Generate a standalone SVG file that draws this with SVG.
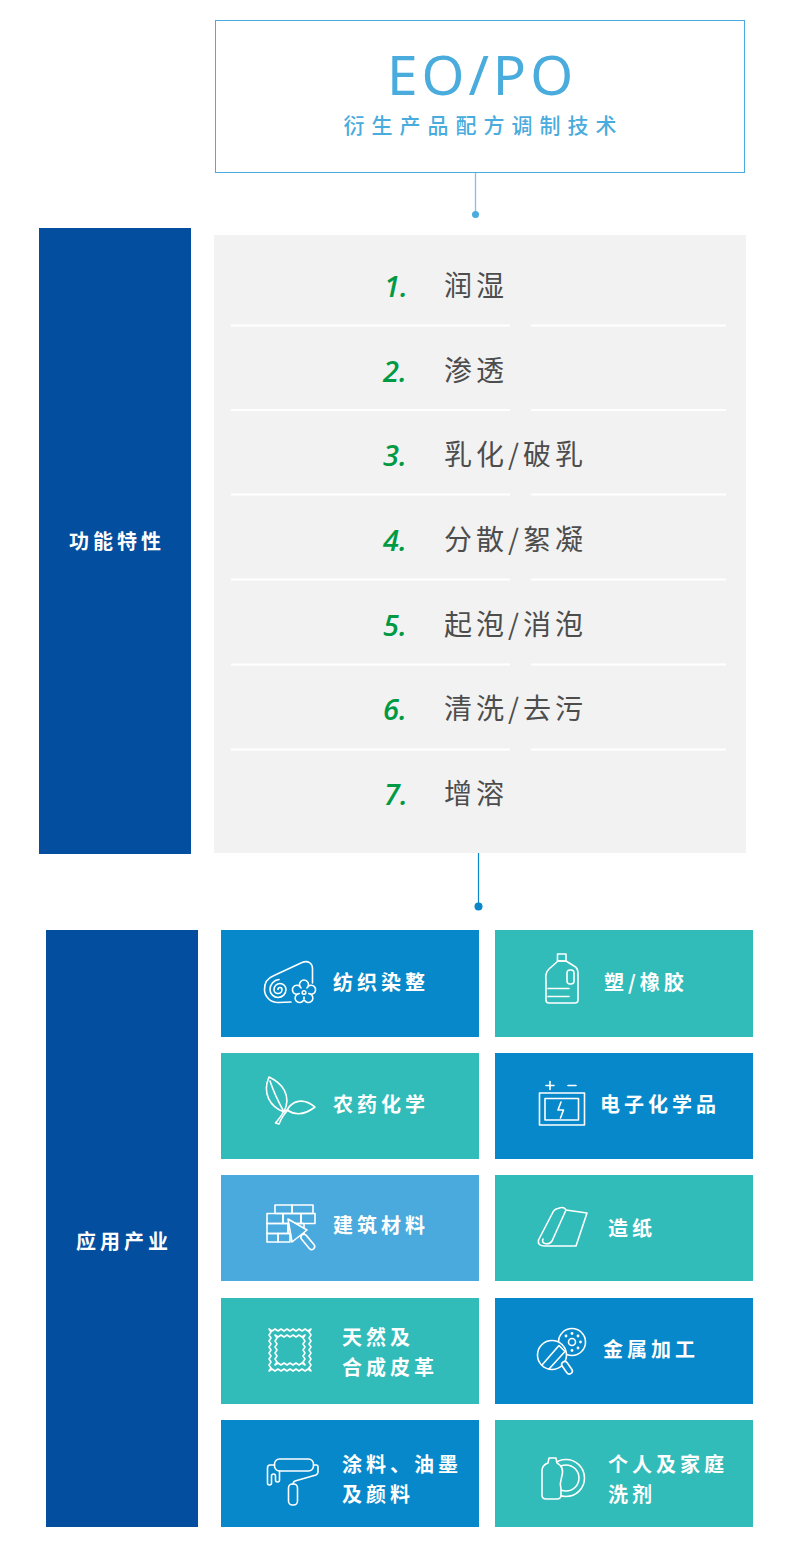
<svg xmlns="http://www.w3.org/2000/svg" width="800" height="1560" viewBox="0 0 800 1560">
<style>
.t{font-family:"Noto Sans CJK SC","Noto Sans",sans-serif}
.lbl{font-family:"Noto Sans CJK SC","Noto Sans",sans-serif;font-size:20px;font-weight:700;fill:#fff;letter-spacing:4px}
.side{font-family:"Noto Sans CJK SC","Noto Sans",sans-serif;font-size:20px;font-weight:700;fill:#fff;letter-spacing:4px;text-anchor:middle}
.num{font-family:"Open Sans","Noto Sans",sans-serif;font-style:italic;font-weight:600;font-size:29px;fill:#009a44}
.item{font-family:"Noto Sans CJK SC","Noto Sans",sans-serif;font-size:28px;font-weight:400;fill:#4d4d4d;letter-spacing:4px}
.sep{stroke:#fff;stroke-width:2}
.ic{fill:none;stroke:#fff;stroke-width:1.6;stroke-linecap:round;stroke-linejoin:round}
.blue{fill:#0788ca}
.teal{fill:#31bbb9}
.lblue{fill:#4aaade}
</style>

<g id="header">
<rect x="215.5" y="20.5" width="529" height="152" fill="#fff" stroke="#4aabdd" stroke-width="1"/>
<text x="482" y="95" text-anchor="middle" font-family="'Noto Sans','Open Sans',sans-serif" font-size="55" letter-spacing="4" fill="#4aabdd">EO/PO</text>
<text x="483.5" y="133" text-anchor="middle" class="t" font-size="21" font-weight="500" letter-spacing="7" fill="#4aabdd">衍生产品配方调制技术</text>
</g>

<g id="connectors">
<line x1="475.5" y1="173" x2="475.5" y2="214" stroke="#7cc4ea" stroke-width="1.3"/>
<circle cx="475.5" cy="214.5" r="3.5" fill="#4aabdd"/>
<line x1="478.5" y1="853" x2="478.5" y2="906" stroke="#0a86c9" stroke-width="1.2"/>
<circle cx="478.5" cy="906.5" r="4" fill="#0a86c9"/>
</g>

<g id="functions-label">
<rect x="39" y="228" width="152" height="626" fill="#034e9e"/>
<text x="117" y="549" class="side">功能特性</text>
</g>

<g id="functions-list">
<rect x="214" y="235" width="532" height="618" fill="#f2f2f2"/>
<g>
<line class="sep" x1="231" y1="325.5" x2="510" y2="325.5"/><line class="sep" x1="531" y1="325.5" x2="726" y2="325.5"/>
<line class="sep" x1="231" y1="410" x2="510" y2="410"/><line class="sep" x1="531" y1="410" x2="726" y2="410"/>
<line class="sep" x1="231" y1="494.5" x2="510" y2="494.5"/><line class="sep" x1="531" y1="494.5" x2="726" y2="494.5"/>
<line class="sep" x1="231" y1="579.5" x2="510" y2="579.5"/><line class="sep" x1="531" y1="579.5" x2="726" y2="579.5"/>
<line class="sep" x1="231" y1="664.5" x2="510" y2="664.5"/><line class="sep" x1="531" y1="664.5" x2="726" y2="664.5"/>
<line class="sep" x1="231" y1="749.5" x2="510" y2="749.5"/><line class="sep" x1="531" y1="749.5" x2="726" y2="749.5"/>
</g>
<g id="item1"><text x="384" y="297" class="num">1.</text><text x="444" y="296" class="item">润湿</text></g>
<g id="item2"><text x="383" y="381.5" class="num">2.</text><text x="444" y="380.5" class="item">渗透</text></g>
<g id="item3"><text x="383" y="466" class="num">3.</text><text x="444" y="465" class="item">乳化/破乳</text></g>
<g id="item4"><text x="383" y="551" class="num">4.</text><text x="444" y="550" class="item">分散/絮凝</text></g>
<g id="item5"><text x="383" y="635.5" class="num">5.</text><text x="444" y="634.5" class="item">起泡/消泡</text></g>
<g id="item6"><text x="383" y="720" class="num">6.</text><text x="444" y="719" class="item">清洗/去污</text></g>
<g id="item7"><text x="384" y="805" class="num">7.</text><text x="444" y="804" class="item">增溶</text></g>
</g>

<g id="industries-label">
<rect x="46" y="930" width="152" height="597" fill="#034e9e"/>
<text x="124" y="1249" class="side">应用产业</text>
</g>

<g id="tile-textile">
<rect x="221" y="930" width="258" height="107" class="blue"/>
<path class="ic" d="M291,1002 L278,1002.5 C270,1002.5 264.5,996 264.5,989.5 C264.5,983 268,978 273,976 L302,962.5 C308,960 312.5,963 312.5,969 L312.5,983"/>
<path class="ic" d="M278,989.5 A2,2 0 0 1 282,989.5 A4,4 0 0 1 274,989.5 A6,6 0 0 1 286,989.5 A8,8 0 0 1 270,989.5 A10,10 0 0 1 279,979.5"/>
<path class="ic" style="fill:#0788ca" d="M306.94,987.95 A4.5,4.5 0 1 1 308.76,993.55 A4.5,4.5 0 1 1 304,997 A4.5,4.5 0 1 1 299.24,993.55 A4.5,4.5 0 1 1 301.06,987.95 A4.5,4.5 0 1 1 306.94,987.95 Z"/>
<circle class="ic" cx="304" cy="992.5" r="1.8"/>
<text x="333" y="990" class="lbl">纺织染整</text>
</g>

<g id="tile-plastic">
<rect x="495" y="930" width="258" height="107" class="teal"/>
<rect class="ic" x="557.5" y="954" width="8.5" height="7"/>
<path class="ic" d="M558,961 L549,969 Q545,973 546,980 L546,1000 Q546,1003 549,1003 L575,1003 Q578,1003 578,1000 L578,973 Q578,968 574,966 L566,961 Z"/>
<rect class="ic" x="567" y="970" width="7" height="14" rx="3"/>
<line class="ic" x1="548" y1="988.5" x2="569" y2="988.5"/>
<line class="ic" x1="548" y1="996.5" x2="569" y2="996.5"/>
<text x="604" y="990" class="lbl">塑/橡胶</text>
</g>

<g id="tile-agro">
<rect x="221" y="1053" width="258" height="106" class="teal"/>
<path class="ic" d="M269,1077 C282,1083 292,1095 284,1112 C270,1107 262,1093 269,1077 Z"/>
<path class="ic" d="M270,1081 C274,1093 279,1103 284,1112"/>
<path class="ic" d="M287,1110 C292,1101 303,1097 315,1107 C306,1114 296,1116 287,1110 Z"/>
<path class="ic" d="M283.5,1111.5 L288,1110 C284,1114 281,1119 279,1124 L275.5,1123 C279,1119 282,1115 283.5,1111.5 Z"/>
<text x="333" y="1112" class="lbl">农药化学</text>
</g>

<g id="tile-electronic">
<rect x="495" y="1053" width="258" height="106" class="blue"/>
<line class="ic" x1="546" y1="1085.5" x2="554" y2="1085.5"/>
<line class="ic" x1="550" y1="1081.5" x2="550" y2="1089.5"/>
<line class="ic" x1="568" y1="1085.5" x2="576" y2="1085.5"/>
<rect class="ic" x="539.5" y="1093" width="45" height="32"/>
<rect class="ic" x="545" y="1098.5" width="33.5" height="21.5"/>
<path class="ic" d="M561,1102 L558,1110 L563.5,1110 L560.5,1118"/>
<text x="600" y="1112" class="lbl">电子化学品</text>
</g>

<g id="tile-building">
<rect x="221" y="1175" width="258" height="106" class="lblue"/>
<rect class="ic" x="275" y="1205" width="17" height="8.5"/>
<rect class="ic" x="292" y="1205" width="21" height="8.5"/>
<rect class="ic" x="267" y="1213.5" width="16" height="10"/>
<rect class="ic" x="283" y="1213.5" width="18" height="10"/>
<rect class="ic" x="301" y="1213.5" width="14" height="10"/>
<rect class="ic" x="267" y="1223.5" width="21" height="10"/>
<rect class="ic" x="288" y="1223.5" width="16" height="10"/>
<rect class="ic" x="267" y="1233.5" width="11" height="8.5"/>
<rect class="ic" x="278" y="1233.5" width="12" height="8.5"/>
<polygon class="ic" style="fill:#4aaade" points="288,1219 307,1230 292,1242"/>
<rect class="ic" style="fill:#4aaade" x="-3" y="0" width="6" height="18" rx="3" transform="translate(302,1235) rotate(-40)"/>
<text x="333" y="1233" class="lbl">建筑材料</text>
</g>

<g id="tile-paper">
<rect x="495" y="1175" width="258" height="106" class="teal"/>
<path class="ic" d="M558,1208.5 Q564,1206 566,1210 L587,1213 L576,1246 L545,1246 Q537,1246 538.5,1240 L552,1214 Q554,1209 558,1208.5 Z"/>
<path class="ic" d="M566,1210 L552,1241 Q550,1244.5 545,1243.5 Q541.5,1242.5 543,1239"/>
<text x="608" y="1236" class="lbl">造纸</text>
</g>

<g id="tile-leather">
<rect x="221" y="1298" width="258" height="106" class="teal"/>
<polygon class="ic" points="269,1329 272,1331 275,1329 278,1331 281,1329 284,1331 287,1329 290,1331 293,1329 296,1331 299,1329 302,1331 305,1329 308,1331 311,1329 309,1332 311,1335 309,1338 311,1341 309,1344 311,1347 309,1350 311,1353 309,1356 311,1359 309,1362 311,1365 309,1368 311,1371 308,1369 305,1371 302,1369 299,1371 296,1369 293,1371 290,1369 287,1371 284,1369 281,1371 278,1369 275,1371 272,1369 269,1371 271,1368 269,1365 271,1362 269,1359 271,1356 269,1353 271,1350 269,1347 271,1344 269,1341 271,1338 269,1335 271,1332"/>
<polygon class="ic" points="275,1335 278,1337 281,1335 284,1337 287,1335 290,1337 293,1335 296,1337 299,1335 302,1337 305,1335 303,1338 305,1341 303,1344 305,1347 303,1350 305,1353 303,1356 305,1359 303,1362 305,1365 302,1363 299,1365 296,1363 293,1365 290,1363 287,1365 284,1363 281,1365 278,1363 275,1365 277,1362 275,1359 277,1356 275,1353 277,1350 275,1347 277,1344 275,1341 277,1338"/>
<text x="342" y="1345" class="lbl">天然及</text>
<text x="342" y="1375" class="lbl">合成皮革</text>
</g>

<g id="tile-metal">
<rect x="495" y="1298" width="258" height="106" class="blue"/>
<circle class="ic" cx="572" cy="1342" r="13.5"/>
<circle class="ic" cx="572" cy="1342" r="3.5"/>
<g fill="#fff">
<circle cx="580.5" cy="1342" r="1.4"/><circle cx="578" cy="1336" r="1.4"/><circle cx="572" cy="1333.5" r="1.4"/><circle cx="566" cy="1336" r="1.4"/><circle cx="578" cy="1348" r="1.4"/><circle cx="572" cy="1350.5" r="1.4"/>
</g>
<circle class="ic" style="fill:#0788ca" cx="552" cy="1355" r="14.5"/>
<path class="ic" d="M542,1365 L559,1345.5 L565,1351.5 L549,1369"/>
<rect class="ic" style="fill:#0788ca" x="-3" y="0" width="6" height="14" rx="3" transform="translate(563,1362) rotate(-35)"/>
<text x="603" y="1357" class="lbl">金属加工</text>
</g>

<g id="tile-coating">
<rect x="221" y="1420" width="258" height="107" class="blue"/>
<rect class="ic" x="274.5" y="1459" width="39" height="12" rx="5"/>
<path class="ic" d="M274.5,1465 L270,1465 Q267.5,1465 267.5,1468 L267.5,1483 Q267.5,1485 269.5,1485 Q271.5,1485 271.5,1483 L271.5,1476 Q271.5,1474 273.5,1474 Q275.5,1474 275.5,1476 L275.5,1480 Q275.5,1482 277.5,1482 Q279.5,1482 279.5,1480 L279.5,1471"/>
<path class="ic" d="M313.5,1465 L316.5,1465 Q318,1465 318,1467 L318,1472 Q318,1474 316,1475 L295,1481 Q293,1482 293,1484"/>
<rect class="ic" x="288.5" y="1484" width="9" height="21" rx="4"/>
<text x="342" y="1472" class="lbl">涂料、油墨</text>
<text x="342" y="1502" class="lbl">及颜料</text>
</g>

<g id="tile-household">
<rect x="495" y="1420" width="258" height="107" class="teal"/>
<circle class="ic" cx="566" cy="1478" r="18.5"/>
<circle class="ic" cx="566" cy="1478" r="13"/>
<path class="ic" style="fill:#31bbb9" d="M549,1458 L556,1458 L557,1463 Q563,1466 562.5,1473 L561,1480 Q559.5,1484 561,1489 L561,1495 Q561,1499 557,1499 L546,1499 Q542,1499 542,1495 L542,1471 Q542,1465 548,1463 Z"/>
<text x="608" y="1472" class="lbl">个人及家庭</text>
<text x="608" y="1502" class="lbl">洗剂</text>
</g>
</svg>
